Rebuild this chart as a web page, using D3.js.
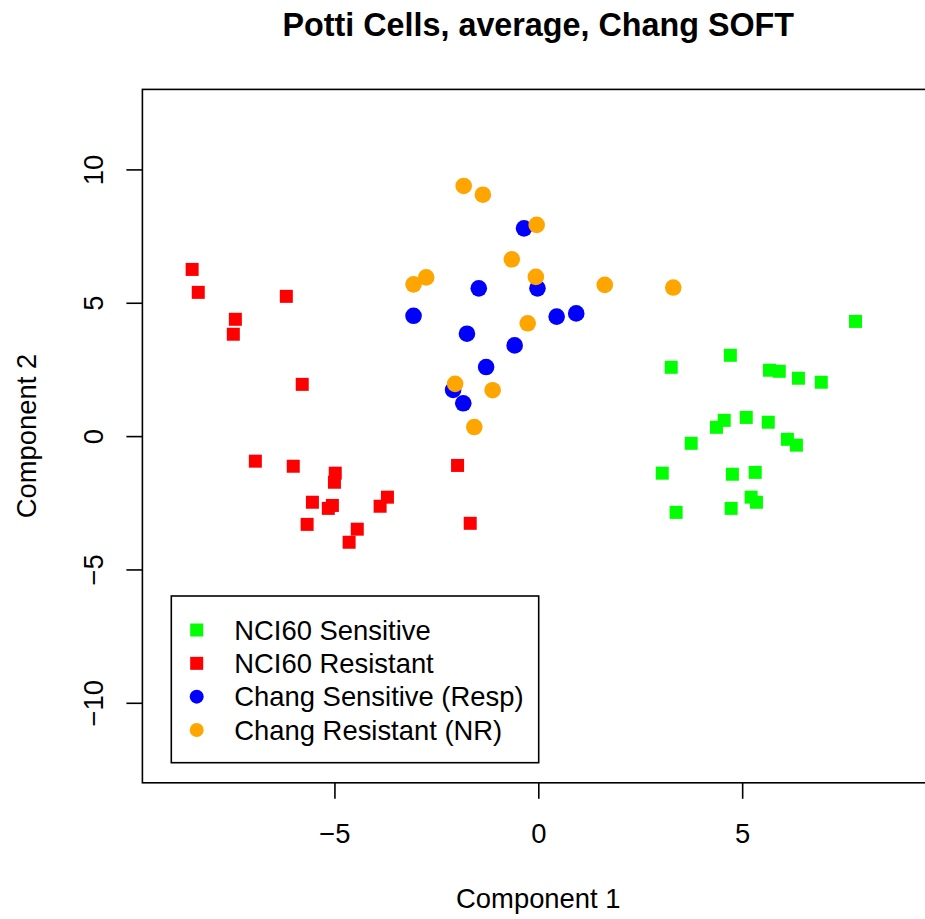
<!DOCTYPE html>
<html>
<head>
<meta charset="utf-8">
<script src="https://cdn.jsdelivr.net/npm/d3@7"></script>
<style>
  html, body { margin: 0; padding: 0; background: #fff; }
  svg { display: block; font-family: "Liberation Sans", Arial, Helvetica, sans-serif; }
</style>
</head>
<body>
<svg id="chart" width="925" height="919"></svg>
<script>
// ---- Data ----
const title = "Potti Cells, average, Chang SOFT";
const xLabel = "Component 1";
const yLabel = "Component 2";
const xTicks = [-5, 0, 5];
const yTicks = [-10, -5, 0, 5, 10];
const xTickLabels = ["\u22125", "0", "5"];
const yTickLabels = ["\u221210", "\u22125", "0", "5", "10"];

const seriesNames = ["NCI60 Sensitive", "NCI60 Resistant", "Chang Sensitive (Resp)", "Chang Resistant (NR)"];
const seriesColors = ["#00ff00", "#ff0000", "#0000ff", "#ffa500"];
const seriesShapes = ["square", "square", "circle", "circle"];

const nciSensX = [7.78, 3.26, 4.71, 5.67, 5.91, 6.38, 6.94, 4.56, 4.37, 5.10, 5.64, 6.11, 6.33, 3.75, 3.04, 4.76, 5.32, 5.22, 5.35, 4.73, 3.38];
const nciSensY = [4.30, 2.58, 3.03, 2.47, 2.43, 2.17, 2.02, 0.59, 0.33, 0.70, 0.52, -0.12, -0.34, -0.27, -1.39, -1.43, -1.36, -2.29, -2.48, -2.71, -2.86];

const nciResX = [-8.49, -8.34, -6.18, -7.43, -7.48, -5.79, -6.94, -6.01, -4.98, -5.00, -5.54, -5.05, -5.15, -5.67, -3.70, -3.88, -4.44, -4.64, -1.98, -1.67];
const nciResY = [6.25, 5.39, 5.24, 4.38, 3.82, 1.94, -0.94, -1.13, -1.39, -1.73, -2.48, -2.60, -2.71, -3.31, -2.29, -2.63, -3.49, -3.98, -1.10, -3.27];

const changSensX = [-0.35, -1.46, -0.02, -3.06, 0.45, 0.93, -1.75, -0.58, -1.28, -2.09, -1.84];
const changSensY = [7.79, 5.54, 5.54, 4.51, 4.48, 4.60, 3.84, 3.40, 2.59, 1.73, 1.23];

const changResX = [-1.83, -1.36, -0.04, -0.65, -3.06, -2.75, -0.06, 1.63, 3.31, -0.26, -2.04, -1.12, -1.57];
const changResY = [9.38, 9.05, 7.92, 6.63, 5.69, 5.95, 5.97, 5.67, 5.57, 4.23, 1.96, 1.72, 0.34];

const seriesX = [nciSensX, nciResX, changSensX, changResX];
const seriesY = [nciSensY, nciResY, changSensY, changResY];

// ---- Layout ----
const svg = d3.select("#chart");
const plotL = 142.4, plotR = 934.2, plotT = 89.4, plotB = 782.8;

const x = d3.scaleLinear().domain([-9.71, 9.71]).range([plotL, plotR]);
const y = d3.scaleLinear().domain([-13, 13]).range([plotB, plotT]);

const fs = 27.4;
const sq = 13;       // square side in plot
const cr = 8.3;      // circle radius in plot

// Title
svg.append("text")
  .attr("x", (plotL + plotR) / 2)
  .attr("y", 36)
  .attr("text-anchor", "middle")
  .attr("font-weight", "bold")
  .attr("font-size", 32.3)
  .text(title);

// Points
seriesNames.forEach((name, i) => {
  const pts = seriesX[i].map((vx, j) => ({ x: vx, y: seriesY[i][j] }));
  const g = svg.append("g");
  if (seriesShapes[i] === "square") {
    g.selectAll("rect").data(pts).enter().append("rect")
      .attr("x", d => x(d.x) - sq / 2)
      .attr("y", d => y(d.y) - sq / 2)
      .attr("width", sq).attr("height", sq)
      .attr("fill", seriesColors[i]);
  } else {
    g.selectAll("circle").data(pts).enter().append("circle")
      .attr("cx", d => x(d.x))
      .attr("cy", d => y(d.y))
      .attr("r", cr)
      .attr("fill", seriesColors[i]);
  }
});

// Plot box
svg.append("rect")
  .attr("x", plotL).attr("y", plotT)
  .attr("width", plotR - plotL).attr("height", plotB - plotT)
  .attr("fill", "none").attr("stroke", "#000").attr("stroke-width", 1.6);

// X axis
const xAxis = d3.axisBottom(x).tickValues(xTicks).tickSize(16)
  .tickFormat((d, i) => xTickLabels[i]);
const gx = svg.append("g").attr("transform", `translate(0,${plotB})`).call(xAxis);
gx.select(".domain").remove();
gx.selectAll(".tick line").attr("stroke", "#000").attr("stroke-width", 1.6);
gx.selectAll(".tick text")
  .attr("font-size", fs).attr("font-family", "Liberation Sans, Arial, sans-serif")
  .attr("fill", "#000").attr("dy", null).attr("y", 843 - plotB);

// Y axis
const yAxis = d3.axisLeft(y).tickValues(yTicks).tickSize(16)
  .tickFormat((d, i) => yTickLabels[i]);
const gy = svg.append("g").attr("transform", `translate(${plotL},0)`).call(yAxis);
gy.select(".domain").remove();
gy.selectAll(".tick line").attr("stroke", "#000").attr("stroke-width", 1.6);
gy.selectAll(".tick text")
  .attr("font-size", fs).attr("font-family", "Liberation Sans, Arial, sans-serif")
  .attr("fill", "#000")
  .attr("x", null).attr("dy", null)
  .attr("text-anchor", "middle")
  .attr("transform", `translate(${103 - plotL},0) rotate(-90)`);

// Axis titles
svg.append("text")
  .attr("x", (plotL + plotR) / 2).attr("y", 908)
  .attr("text-anchor", "middle").attr("font-size", fs)
  .text(xLabel);
svg.append("text")
  .attr("transform", `translate(36,${(plotT + plotB) / 2}) rotate(-90)`)
  .attr("text-anchor", "middle").attr("font-size", fs)
  .text(yLabel);

// Legend
const lg = svg.append("g");
lg.append("rect")
  .attr("x", 171.3).attr("y", 596)
  .attr("width", 538.7 - 171.3).attr("height", 762.7 - 596)
  .attr("fill", "#fff").attr("stroke", "#000").attr("stroke-width", 1.6);
const rowY = d3.scaleLinear().domain([0, 3]).range([630, 730]);
seriesNames.forEach((name, i) => {
  const cy = rowY(i);
  if (seriesShapes[i] === "square") {
    lg.append("rect").attr("x", 196.7 - 6.5).attr("y", cy - 6.5)
      .attr("width", 13).attr("height", 13).attr("fill", seriesColors[i]);
  } else {
    lg.append("circle").attr("cx", 196.7).attr("cy", cy).attr("r", 7)
      .attr("fill", seriesColors[i]);
  }
  lg.append("text").attr("x", 234.3).attr("y", cy + 9.8)
    .attr("font-size", fs).text(name);
});
</script>
</body>
</html>
